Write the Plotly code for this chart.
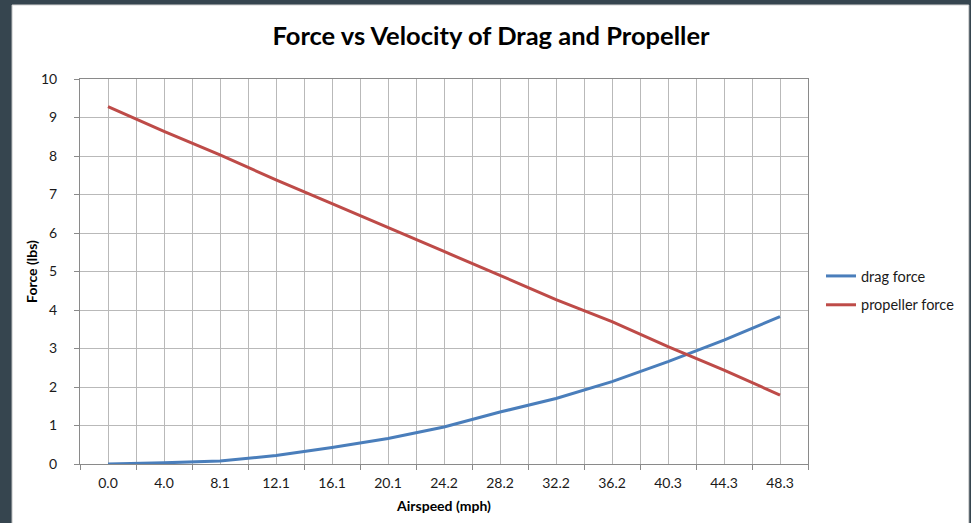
import plotly.graph_objects as go

# Airspeed categories (mph) and forces (lbs)
airspeed_labels = ["0.0", "4.0", "8.1", "12.1", "16.1", "20.1", "24.2",
                   "28.2", "32.2", "36.2", "40.3", "44.3", "48.3"]
drag_force = [0.00, 0.03, 0.08, 0.22, 0.43, 0.66, 0.96,
              1.35, 1.70, 2.14, 2.66, 3.22, 3.83]
propeller_force = [9.28, 8.64, 8.03, 7.38, 6.76, 6.15, 5.52,
                   4.90, 4.27, 3.70, 3.05, 2.44, 1.79]
force_ticks = list(range(0, 11))

positions = list(range(len(airspeed_labels)))
boundaries = [p - 0.5 for p in positions] + [positions[-1] + 0.5]

W, H = 971, 523
ML, MR, MT, MB = 80, 162, 79, 59
PW, PH = W - ML - MR, H - MT - MB


def px_x(px):
    return (px - ML) / PW


def px_y(py):
    return (H - MB - py) / PH


FONT = "Lato"
GRID = "#b9b9b9"
AXIS = "#8a8a8a"
TXT = "#1a1a1a"

fig = go.Figure()
fig.add_trace(go.Scatter(
    x=positions, y=drag_force, mode="lines", name="drag force",
    line=dict(color="#4a7ebb", width=3), legendgroup="a"))
fig.add_trace(go.Scatter(
    x=positions, y=propeller_force, mode="lines", name="propeller force",
    line=dict(color="#be4b48", width=3), legendgroup="b"))

fig.update_layout(
    width=W, height=H,
    margin=dict(l=ML, r=MR, t=MT, b=MB),
    paper_bgcolor="#36454f",
    plot_bgcolor="white",
    font=dict(family=FONT, color=TXT),
    title=dict(text="<b>Force vs Velocity of Drag and Propeller</b>",
               font=dict(size=25.5, family=FONT, color="black"),
               xref="container", x=491 / W, xanchor="center",
               yref="container", y=1 - 36 / H, yanchor="middle"),
    legend=dict(x=px_x(821), y=px_y(260), xanchor="left", yanchor="top",
                bgcolor="rgba(0,0,0,0)", font=dict(size=14.5, family=FONT),
                tracegroupgap=7),
    shapes=[dict(type="rect", xref="paper", yref="paper", layer="below",
                 x0=px_x(12), x1=px_x(970), y0=px_y(524), y1=px_y(5),
                 fillcolor="white", line=dict(color="#d4d4d4", width=1))],
)

fig.update_xaxes(
    range=[-0.5, positions[-1] + 0.5],
    tickvals=positions, ticktext=airspeed_labels, ticks="",
    tickfont=dict(size=14, family=FONT, color=TXT),
    ticklabelstandoff=6,
    showgrid=True, gridcolor=GRID, gridwidth=1,
    minor=dict(tickvals=boundaries, ticks="outside", ticklen=5,
               tickcolor=AXIS, showgrid=True, gridcolor=GRID, gridwidth=1),
    showline=True, linecolor=AXIS, linewidth=1, mirror=True,
    zeroline=False, fixedrange=True,
    title=dict(text="<b>Airspeed (mph)</b>", standoff=11,
               font=dict(size=14, family=FONT, color="black")),
)
fig.update_yaxes(
    range=[0, 10], tickvals=force_ticks,
    ticks="outside", ticklen=5, tickcolor=AXIS,
    tickfont=dict(size=14, family=FONT, color=TXT),
    ticklabelstandoff=14,
    showgrid=True, gridcolor=GRID, gridwidth=1,
    showline=True, linecolor=AXIS, linewidth=1, mirror=True,
    zeroline=False, fixedrange=True,
    title=dict(text="<b>Force (lbs)</b>", standoff=0,
               font=dict(size=14, family=FONT, color="black")),
)

fig.write_html("out.html")
